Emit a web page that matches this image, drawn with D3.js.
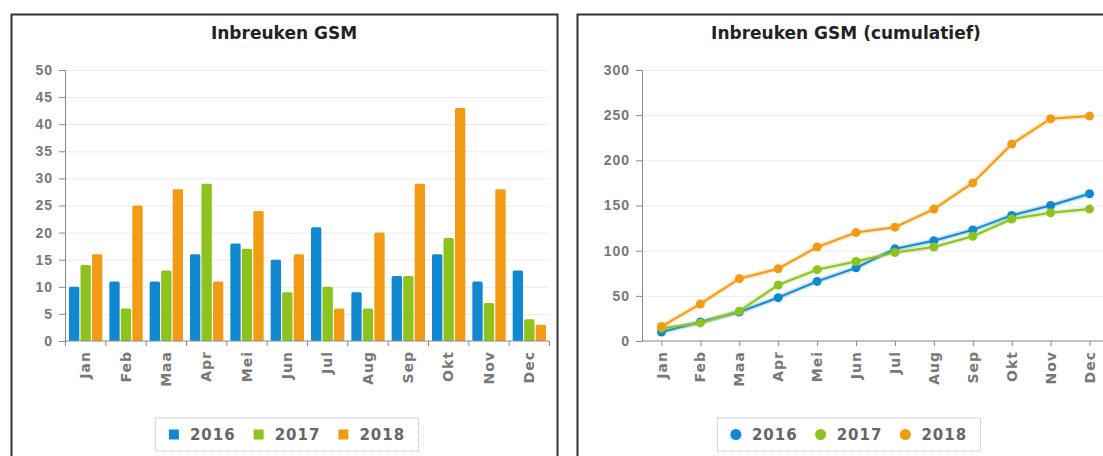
<!DOCTYPE html>
<html>
<head>
<meta charset="utf-8">
<script src="https://cdn.jsdelivr.net/npm/d3@7"></script>
<style>
  body { margin: 0; background: #fff; }
  svg { display: block; font-family: "DejaVu Sans", Verdana, sans-serif; }
  .title { font-size: 17px; font-weight: bold; fill: #222; }
  .axis text { font-size: 14px; font-weight: bold; fill: #777; letter-spacing: 1px; }
  .axis path, .axis line { stroke: #888; }
  .grid line { stroke: #ececec; }
  .legend text { font-size: 15px; font-weight: bold; fill: #666; letter-spacing: 1px; }
</style>
</head>
<body>
<div id="chart"></div>
<script>
// Chart data
const months = ['Jan', 'Feb', 'Maa', 'Apr', 'Mei', 'Jun', 'Jul', 'Aug', 'Sep', 'Okt', 'Nov', 'Dec']
const years = ['2016', '2017', '2018']
const v2016 = [10, 11, 11, 16, 18, 15, 21, 9, 12, 16, 11, 13]
const v2017 = [14, 6, 13, 29, 17, 9, 10, 6, 12, 19, 7, 4]
const v2018 = [16, 25, 28, 11, 24, 16, 6, 20, 29, 43, 28, 3]
const barTicks = [0, 5, 10, 15, 20, 25, 30, 35, 40, 45, 50]
const cumTicks = [0, 50, 100, 150, 200, 250, 300]

const colors = ['#1189d1', '#8dc21f', '#f29b14']

let series = [v2016, v2017, v2018].map((vals, i) => ({
  year: years[i],
  color: colors[i],
  values: vals,
  cum: Array.from(d3.cumsum(vals))
}))

let W = 1103, H = 456
let svg = d3.select('#chart').append('svg')
    .attr('width', W)
    .attr('height', H)

// Panel frames
svg.append('rect')
  .attr('x', 11.5).attr('y', 14.5)
  .attr('width', 546).attr('height', 470)
  .attr('fill', 'none').attr('stroke', '#333').attr('stroke-width', 2)
svg.append('rect')
  .attr('x', 577.5).attr('y', 14.5)
  .attr('width', 540).attr('height', 470)
  .attr('fill', 'none').attr('stroke', '#333').attr('stroke-width', 2)

/**
 * Draw legend centered on cx
 */
function legend(cx, top, marker) {
  let g = svg.append('g').attr('class', 'legend')
  let box = g.append('rect')
  let x = 0
  series.forEach(s => {
    if (marker === 'square') {
      g.append('rect').attr('x', x).attr('y', -5).attr('width', 10).attr('height', 10)
        .attr('fill', s.color)
    } else {
      g.append('circle').attr('cx', x + 5).attr('cy', 0).attr('r', 5.5).attr('fill', s.color)
    }
    let t = g.append('text').attr('x', x + 21).attr('y', 0).attr('dy', '0.36em').text(s.year)
    x += 21 + t.node().getComputedTextLength() + 18
  })
  let w = x - 18
  box.attr('x', -13.5).attr('y', -16.5).attr('width', w + 27).attr('height', 33)
    .attr('fill', '#fff').attr('stroke', '#aaa').attr('stroke-dasharray', '1,1')
  g.attr('transform', 'translate(' + (cx - w / 2) + ',' + (top + 16.5) + ')')
}

// ---- Left: grouped bars ----
{
  let left = 65, right = 549, top = 70, bottom = 341
  let x0 = d3.scaleBand().domain(months).range([left, right])
  let x1 = d3.scaleBand().domain(years).range([4, x0.bandwidth() - 3]).paddingInner(0.1)
  let y = d3.scaleLinear().domain([0, 50]).range([bottom, top])

  svg.append('text').attr('class', 'title')
    .attr('x', 284).attr('y', 39).attr('text-anchor', 'middle')
    .text('Inbreuken GSM')

  svg.append('g').attr('class', 'grid')
    .selectAll('line').data(barTicks.slice(1)).join('line')
    .attr('x1', left).attr('x2', right)
    .attr('y1', d => y(d) + 0.5).attr('y2', d => y(d) + 0.5)

  let groups = svg.append('g').selectAll('g').data(months).join('g')
    .attr('transform', m => 'translate(' + x0(m) + ',0)')
  groups.selectAll('rect')
    .data((m, i) => series.map(s => ({ year: s.year, color: s.color, v: s.values[i] })))
    .join('rect')
    .attr('x', d => x1(d.year))
    .attr('width', x1.bandwidth())
    .attr('y', d => y(d.v))
    .attr('height', d => bottom - y(d.v))
    .attr('rx', 1.5)
    .attr('fill', d => d.color)

  svg.append('g').attr('class', 'axis')
    .attr('transform', 'translate(' + left + ',0)')
    .call(d3.axisLeft(y).tickValues(barTicks).tickSize(6).tickPadding(6))

  let xAxis = svg.append('g').attr('class', 'axis')
    .attr('transform', 'translate(0,' + bottom + ')')
  xAxis.append('line').attr('x1', left).attr('x2', right)
  xAxis.selectAll('.tk').data(months.map(m => x0(m)).concat([right])).join('line')
    .attr('class', 'tk')
    .attr('x1', d => d + 0.5).attr('x2', d => d + 0.5).attr('y1', 0).attr('y2', 5)
  xAxis.selectAll('text').data(months).join('text')
    .attr('transform', m => 'translate(' + (x0(m) + x0.bandwidth() / 2) + ',10) rotate(-90)')
    .attr('text-anchor', 'end').attr('dy', '0.36em')
    .text(m => m)

  legend(287, 418, 'square')
}

// ---- Right: cumulative lines ----
{
  let left = 642, right = 1109, top = 70, bottom = 341
  let x = d3.scalePoint().domain(months).range([left, right]).padding(0.5)
  let y = d3.scaleLinear().domain([0, 300]).range([bottom, top])

  svg.append('text').attr('class', 'title')
    .attr('x', 846).attr('y', 39).attr('text-anchor', 'middle')
    .text('Inbreuken GSM (cumulatief)')

  svg.append('g').attr('class', 'grid')
    .selectAll('line').data(cumTicks.slice(1)).join('line')
    .attr('x1', left).attr('x2', right)
    .attr('y1', d => y(d) + 0.5).attr('y2', d => y(d) + 0.5)

  svg.append('g').attr('class', 'axis')
    .attr('transform', 'translate(' + left + ',0)')
    .call(d3.axisLeft(y).tickValues(cumTicks).tickSize(6).tickPadding(6))

  let xAxis = svg.append('g').attr('class', 'axis')
    .attr('transform', 'translate(0,' + bottom + ')')
  xAxis.append('line').attr('x1', left).attr('x2', right)
  xAxis.selectAll('.tk').data(months).join('line')
    .attr('class', 'tk')
    .attr('x1', m => x(m) + 0.5).attr('x2', m => x(m) + 0.5).attr('y1', 0).attr('y2', 5)
  xAxis.selectAll('text').data(months).join('text')
    .attr('transform', m => 'translate(' + x(m) + ',10) rotate(-90)')
    .attr('text-anchor', 'end').attr('dy', '0.36em')
    .text(m => m)

  let line = d3.line().x((d, i) => x(months[i])).y(d => y(d))
  series.forEach(s => {
    svg.append('path').datum(s.cum)
      .attr('fill', 'none').attr('stroke', s.color).attr('stroke-opacity', 0.25)
      .attr('stroke-width', 5).attr('d', line)
    svg.append('path').datum(s.cum)
      .attr('fill', 'none').attr('stroke', s.color).attr('stroke-width', 2).attr('d', line)
    svg.append('g').selectAll('circle').data(s.cum).join('circle')
      .attr('cx', (d, i) => x(months[i])).attr('cy', d => y(d))
      .attr('r', 4.5).attr('fill', s.color)
  })

  legend(849, 418, 'circle')
}
</script>
</body>
</html>
